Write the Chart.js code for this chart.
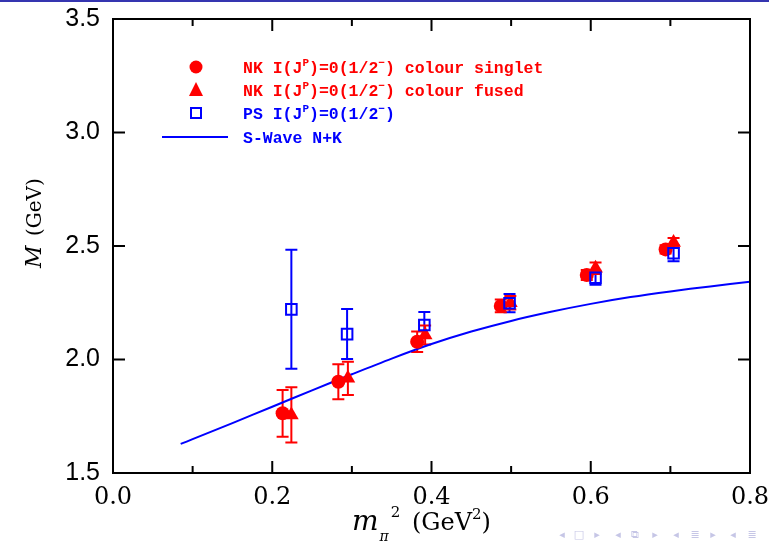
<!DOCTYPE html>
<html>
<head>
<meta charset="utf-8">
<script src="https://cdn.jsdelivr.net/npm/chart.js@4.4.0/dist/chart.umd.min.js"></script>
<style>
html, body { margin: 0; padding: 0; background: #fff; }
</style>
</head>
<body>
<canvas id="myChart" width="769" height="548"></canvas>
<script>
// NK colour singlet
var singletX = [0.213, 0.283, 0.382, 0.487, 0.595, 0.694];
var singletM = [1.763, 1.902, 2.078, 2.236, 2.372, 2.485];
var singletErr = [0.103, 0.077, 0.045, 0.028, 0.022, 0.018];
// NK colour fused
var fusedX = [0.224, 0.295, 0.392, 0.499, 0.606, 0.704];
var fusedM = [1.756, 1.917, 2.108, 2.250, 2.402, 2.515];
var fusedErr = [0.122, 0.073, 0.042, 0.030, 0.025, 0.020];
// PS
var psX = [0.224, 0.294, 0.391, 0.498, 0.606, 0.704];
var psM = [2.221, 2.112, 2.152, 2.248, 2.360, 2.468];
var psErr = [0.262, 0.110, 0.057, 0.040, 0.031, 0.035];
// S-wave N+K
var waveX = [0.085, 0.10, 0.15, 0.20, 0.25, 0.30, 0.35, 0.40, 0.45, 0.50, 0.55, 0.60, 0.65, 0.70, 0.75, 0.80];
var waveM = [1.628, 1.649, 1.720, 1.792, 1.864, 1.935, 2.004, 2.068, 2.123, 2.170, 2.210, 2.245, 2.275, 2.300, 2.322, 2.343];

var xTicks = [0.0, 0.2, 0.4, 0.6, 0.8];
var xMinor = [0.1, 0.3, 0.5, 0.7];
var yTicks = [1.5, 2.0, 2.5, 3.0, 3.5];

var RED = '#ff0000';
var BLUE = '#0000ff';

function pts(xs, ys) {
    return xs.map(function (x, i) { return { x: x, y: ys[i] }; });
}

// keep the plot box fixed: no extra room for edge labels
function fixPad(s) {
    s.paddingLeft = 0; s.paddingRight = 0;
    s.paddingTop = 0; s.paddingBottom = 0;
}

// vertical error bars with caps, under the markers
var errorBars = {
    id: 'errorBars',
    beforeDatasetsDraw: function (chart) {
        var ctx = chart.ctx, xs = chart.scales.x, ys = chart.scales.y;
        chart.data.datasets.forEach(function (ds) {
            if (!ds.errors) return;
            ctx.save();
            ctx.strokeStyle = ds.borderColor;
            ctx.lineWidth = 2;
            ds.data.forEach(function (p, i) {
                var px = xs.getPixelForValue(p.x);
                var top = ys.getPixelForValue(p.y + ds.errors[i]);
                var bot = ys.getPixelForValue(p.y - ds.errors[i]);
                ctx.beginPath();
                ctx.moveTo(px, top); ctx.lineTo(px, bot);
                ctx.moveTo(px - 6, top); ctx.lineTo(px + 6, top);
                ctx.moveTo(px - 6, bot); ctx.lineTo(px + 6, bot);
                ctx.stroke();
            });
            ctx.restore();
        });
    }
};

// draws a run of text pieces, some raised or lowered
function drawPieces(ctx, x, y, pieces) {
    pieces.forEach(function (p) {
        ctx.font = p.font;
        ctx.fillText(p.t, x + (p.dx || 0), y + (p.dy || 0));
        x += ctx.measureText(p.t).width + (p.dx || 0);
    });
}

var frame = {
    id: 'frame',
    beforeDraw: function (chart) {
        var ctx = chart.ctx;
        ctx.save();
        ctx.fillStyle = '#fff';
        ctx.fillRect(0, 0, chart.width, chart.height);
        ctx.fillStyle = '#3535b0';
        ctx.fillRect(0, 0, chart.width, 2);
        ctx.restore();
    },
    afterDraw: function (chart) {
        var ctx = chart.ctx, a = chart.chartArea;
        var xs = chart.scales.x, ys = chart.scales.y;
        ctx.save();
        ctx.strokeStyle = '#000';
        ctx.lineWidth = 2;
        ctx.strokeRect(a.left, a.top, a.right - a.left, a.bottom - a.top);
        ctx.beginPath();
        xTicks.forEach(function (v) {
            var px = xs.getPixelForValue(v);
            ctx.moveTo(px, a.bottom); ctx.lineTo(px, a.bottom - 12);
            ctx.moveTo(px, a.top); ctx.lineTo(px, a.top + 12);
        });
        xMinor.forEach(function (v) {
            var px = xs.getPixelForValue(v);
            ctx.moveTo(px, a.bottom); ctx.lineTo(px, a.bottom - 7);
            ctx.moveTo(px, a.top); ctx.lineTo(px, a.top + 7);
        });
        yTicks.forEach(function (v) {
            var py = ys.getPixelForValue(v);
            ctx.moveTo(a.left, py); ctx.lineTo(a.left + 12, py);
            ctx.moveTo(a.right, py); ctx.lineTo(a.right - 12, py);
        });
        ctx.stroke();

        // axis titles
        ctx.fillStyle = '#000';
        ctx.textBaseline = 'alphabetic';
        drawPieces(ctx, 352, 530, [
            { t: 'm', font: 'italic 28px "DejaVu Serif"' },
            { t: 'π', font: 'italic 14px "DejaVu Serif"', dy: 11, dx: 1 },
            { t: '2', font: '15px "DejaVu Serif"', dy: -13, dx: 2 },
            { t: ' (GeV', font: '24px "DejaVu Serif"', dx: 4 },
            { t: '2', font: '15px "DejaVu Serif"', dy: -11 },
            { t: ')', font: '24px "DejaVu Serif"' }
        ]);
        ctx.save();
        ctx.translate(41, 268);
        ctx.rotate(-Math.PI / 2);
        drawPieces(ctx, 0, 0, [
            { t: 'M', font: 'italic 22px "DejaVu Serif"' },
            { t: ' (GeV)', font: '20px "DejaVu Serif"', dx: 3 }
        ]);
        ctx.restore();

        // key
        var lf = 'bold 16.5px "Liberation Mono"';
        var sf = 'bold 11px "Liberation Mono"';
        var rows = [
            { y: 67, c: RED, head: 'NK I(J', tail: ' colour singlet' },
            { y: 90, c: RED, head: 'NK I(J', tail: ' colour fused' },
            { y: 113, c: BLUE, head: 'PS I(J', tail: '' }
        ];
        rows.forEach(function (r) {
            ctx.fillStyle = r.c;
            drawPieces(ctx, 243, r.y + 6, [
                { t: r.head, font: lf },
                { t: 'P', font: sf, dy: -7 },
                { t: ')=0(1/2', font: lf },
                { t: '−', font: sf, dy: -7 },
                { t: ')' + r.tail, font: lf }
            ]);
        });
        ctx.fillStyle = BLUE;
        ctx.font = lf;
        ctx.fillText('S-Wave N+K', 243, 143);

        ctx.fillStyle = RED;
        ctx.beginPath();
        ctx.arc(196, 67, 6.5, 0, Math.PI * 2);
        ctx.fill();
        ctx.beginPath();
        ctx.moveTo(196, 82); ctx.lineTo(203, 96); ctx.lineTo(189, 96);
        ctx.closePath();
        ctx.fill();
        ctx.strokeStyle = BLUE;
        ctx.lineWidth = 2;
        ctx.strokeRect(191, 108, 10, 10);
        ctx.beginPath();
        ctx.moveTo(162, 137); ctx.lineTo(228, 137);
        ctx.stroke();

        // navigation symbols
        ctx.fillStyle = '#c6c6e6';
        ctx.font = '11px "DejaVu Sans"';
        ctx.textAlign = 'center';
        ctx.textBaseline = 'middle';
        var nav = [['◂', 562], ['□', 579], ['▸', 597], ['◂', 618], ['⧉', 635], ['▸', 655],
                   ['◂', 676], ['≣', 695], ['▸', 713], ['◂', 733], ['≣', 752]];
        nav.forEach(function (n) { ctx.fillText(n[0], n[1], 535); });
        ctx.restore();
    }
};

var ctx = document.getElementById('myChart').getContext('2d');
var myChart = new Chart(ctx, {
    type: 'scatter',
    data: {
        datasets: [{
            label: 'PS I(J^P)=0(1/2^-)',
            data: pts(psX, psM),
            errors: psErr,
            pointStyle: 'rect',
            pointRadius: 7.5,
            pointBorderWidth: 2,
            borderColor: BLUE,
            pointBorderColor: BLUE,
            pointBackgroundColor: 'rgba(0,0,0,0)',
            order: 0
        }, {
            label: 'NK I(J^P)=0(1/2^-) colour singlet',
            data: pts(singletX, singletM),
            errors: singletErr,
            pointStyle: 'circle',
            pointRadius: 7,
            pointBorderWidth: 0,
            borderColor: RED,
            pointBackgroundColor: RED,
            order: 1
        }, {
            label: 'NK I(J^P)=0(1/2^-) colour fused',
            data: pts(fusedX, fusedM),
            errors: fusedErr,
            pointStyle: 'triangle',
            pointRadius: 8.5,
            pointBorderWidth: 0,
            borderColor: RED,
            pointBackgroundColor: RED,
            order: 2
        }, {
            type: 'line',
            label: 'S-Wave N+K',
            data: pts(waveX, waveM),
            borderColor: BLUE,
            borderWidth: 2,
            pointRadius: 0,
            fill: false,
            tension: 0.3,
            order: 3
        }]
    },
    options: {
        responsive: false,
        animation: false,
        devicePixelRatio: 1,
        layout: { padding: { top: 19, right: 19, left: 0, bottom: 0 } },
        plugins: {
            legend: { display: false },
            tooltip: { enabled: false }
        },
        scales: {
            x: {
                type: 'linear',
                min: 0,
                max: 0.8,
                afterBuildTicks: function (s) { s.ticks = xTicks.map(function (v) { return { value: v }; }); },
                afterFit: function (s) { s.height = 75; fixPad(s); },
                ticks: {
                    autoSkip: false,
                    maxRotation: 0,
                    padding: 10,
                    color: '#000',
                    font: { family: 'DejaVu Serif', size: 24 },
                    callback: function (v) { return v.toFixed(1); }
                },
                grid: { display: false, drawTicks: false },
                border: { display: false }
            },
            y: {
                type: 'linear',
                min: 1.5,
                max: 3.5,
                afterBuildTicks: function (s) { s.ticks = yTicks.map(function (v) { return { value: v }; }); },
                afterFit: function (s) { s.width = 113; fixPad(s); },
                ticks: {
                    autoSkip: false,
                    padding: 13,
                    color: '#000',
                    font: { family: 'Liberation Sans', size: 25 },
                    callback: function (v) { return v.toFixed(1); }
                },
                grid: { display: false, drawTicks: false },
                border: { display: false }
            }
        }
    },
    plugins: [errorBars, frame]
});
</script>
</body>
</html>
